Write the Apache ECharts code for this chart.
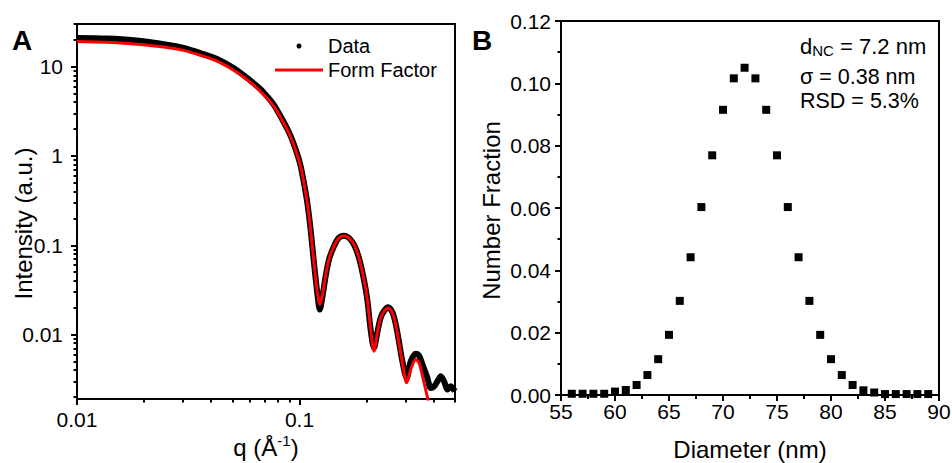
<!DOCTYPE html>
<html>
<head>
<meta charset="utf-8">
<script src="https://cdn.jsdelivr.net/npm/echarts@6/dist/echarts.min.js"></script>
<style>html,body{margin:0;padding:0;background:#fff;}#c{width:952px;height:463px;}</style>
</head>
<body>
<div id="c"></div>
<script>
// ---- Panel A: SAXS data and form factor fit ----
const qData = [0.0100,0.0136,0.0180,0.0254,0.0301,0.0358,0.0426,0.0506,0.0581,0.0667,0.0715,0.0766,0.0849,0.0910,0.0976,0.1011,0.1047,0.1084,0.1122,0.1162,0.1203,0.1234,0.1265,0.1309,0.1355,0.1427,0.1503,0.1584,0.1668,0.1760,0.1851,0.1949,0.2018,0.2089,0.2163,0.2239,0.2317,0.2399,0.2500,0.2616,0.2706,0.2801,0.2901,0.3034,0.3162,0.3331,0.3446,0.3573,0.3758,0.389,0.403,0.417,0.4315,0.4467,0.4624,0.4786,0.4989];
const iData = [20.9,20.6,19.7,17.6,16.2,14.2,12.2,9.67,7.47,5.63,4.65,3.75,2.40,1.70,1.06,0.78,0.50,0.30,0.150,0.063,0.029,0.0191,0.0255,0.044,0.068,0.097,0.121,0.128,0.121,0.101,0.072,0.041,0.0245,0.0113,0.0071,0.0106,0.0155,0.0184,0.0202,0.0178,0.0132,0.0083,0.0050,0.00327,0.00502,0.00612,0.00582,0.00461,0.00327,0.00253,0.00264,0.0030,0.00341,0.0030,0.00242,0.00264,0.00232];
const qFit = [0.0100,0.0136,0.0180,0.0254,0.0301,0.0358,0.0426,0.0506,0.0581,0.0667,0.0715,0.0766,0.0849,0.0910,0.0976,0.1011,0.1047,0.1084,0.1122,0.1162,0.1203,0.1234,0.1265,0.1309,0.1355,0.1427,0.1503,0.1584,0.1668,0.1760,0.1851,0.1949,0.2018,0.2089,0.2163,0.2239,0.2317,0.2399,0.2500,0.2616,0.2706,0.2801,0.2901,0.3034,0.3162,0.3331,0.3446,0.3573,0.3758,0.3800];
const iFit = [19.1,18.7,17.9,16.4,15.2,13.4,11.5,9.1,7.15,5.29,4.42,3.60,2.34,1.66,1.035,0.766,0.499,0.298,0.150,0.0634,0.0293,0.0217,0.0269,0.0450,0.0690,0.0973,0.1208,0.128,0.1208,0.1016,0.0721,0.0413,0.0247,0.0114,0.0065,0.01045,0.0154,0.0182,0.0199,0.0175,0.01294,0.00807,0.00482,0.00288,0.00406,0.00525,0.00482,0.00341,0.00199,0.0017];
const qMajorTicks = [0.01, 0.1];
const qMinorTicks = [0.02,0.03,0.04,0.05,0.06,0.07,0.08,0.09,0.2,0.3,0.4,0.5];
const iMajorTicks = [0.01, 0.1, 1, 10];
const iMinorTicks = [0.002,0.003,0.004,0.005,0.006,0.007,0.008,0.009,0.02,0.03,0.04,0.05,0.06,0.07,0.08,0.09,0.2,0.3,0.4,0.5,0.6,0.7,0.8,0.9,2,3,4,5,6,7,8,9,20,30];

// ---- Panel B: size distribution ----
const diameter = [56,57,58,59,60,61,62,63,64,65,66,67,68,69,70,71,72,73,74,75,76,77,78,79,80,81,82,83,84,85,86,87,88,89];
const fraction = [0.0004,0.0004,0.0004,0.0004,0.0011,0.0016,0.0032,0.0064,0.0115,0.0193,0.0302,0.0442,0.0603,0.0769,0.0915,0.1016,0.1050,0.1016,0.0915,0.0769,0.0603,0.0442,0.0302,0.0193,0.0115,0.0064,0.0032,0.0015,0.0008,0.0003,0.0003,0.0003,0.0003,0.0003];
const annotation = ['{m|d}{s|NC}{m| = 7.2 nm}', '{m|σ = 0.38 nm}', '{m|RSD = 5.3%}'];

const FF = 'Liberation Sans, Arial, sans-serif';
const K = '#000';
const zip = (a, b) => a.map((v, i) => [v, b[i]]);

const chart = echarts.init(document.getElementById('c'), null, {renderer: 'svg'});
const lbl = (extra) => Object.assign({color: K, fontSize: 21, fontFamily: FF}, extra);
const line2 = {show: true, lineStyle: {color: K, width: 2}};

chart.setOption({
  backgroundColor: '#fff',
  animation: false,
  grid: [
    {left: 77, top: 24, width: 378, height: 375, show: true, borderColor: K, borderWidth: 2, backgroundColor: 'transparent', containLabel: false, outerBoundsMode: 'none'},
    {left: 561, top: 21, width: 378, height: 374, show: true, borderColor: K, borderWidth: 2, backgroundColor: 'transparent', containLabel: false, outerBoundsMode: 'none'}
  ],
  legend: {
    orient: 'vertical', left: 270, top: 31, itemWidth: 48, itemHeight: 5, itemGap: 4,
    textStyle: {color: K, fontSize: 20, fontFamily: FF},
    data: [{name: 'Data', icon: 'circle'}, {name: 'Form Factor', icon: 'path://M0,0L48,0L48,3L0,3Z'}]
  },
  xAxis: [
    {type: 'log', gridIndex: 0, min: 0.01, max: 0.5, position: 'bottom',
     axisLine: line2, splitLine: {show: false},
     axisTick: {show: true, length: 6, lineStyle: {color: K, width: 2}, customValues: qMajorTicks},
     axisLabel: lbl({margin: 10, customValues: qMajorTicks}),
     name: '{a|q (Å}{u|-1}{a|)}', nameLocation: 'middle', nameGap: 34, nameMoveOverlap: false,
     nameTextStyle: {color: K, fontSize: 24, fontFamily: FF,
       rich: {a: {color: K, fontSize: 24, fontFamily: FF, lineHeight: 28},
              u: {color: K, fontSize: 15, fontFamily: FF, lineHeight: 15, verticalAlign: 'top'}}}},
    {type: 'log', gridIndex: 0, min: 0.01, max: 0.5, position: 'bottom',
     axisLine: {show: false}, splitLine: {show: false}, axisLabel: {show: false},
     axisTick: {show: true, length: 3.5, lineStyle: {color: K, width: 2}, customValues: qMinorTicks}},
    {type: 'value', gridIndex: 1, min: 55, max: 90, interval: 5,
     axisLine: line2, splitLine: {show: false},
     axisTick: {show: true, length: 6, lineStyle: {color: K, width: 2}},
     minorTick: {show: true, splitNumber: 2, length: 4, lineStyle: {color: K, width: 2}},
     axisLabel: lbl({margin: 6}),
     name: 'Diameter (nm)', nameLocation: 'middle', nameGap: 42, nameMoveOverlap: false,
     nameTextStyle: {color: K, fontSize: 24, fontFamily: FF}}
  ],
  yAxis: [
    {type: 'log', gridIndex: 0, min: 0.0019, max: 30, position: 'left',
     axisLine: line2, splitLine: {show: false},
     axisTick: {show: true, length: 6, lineStyle: {color: K, width: 2}, customValues: iMajorTicks},
     axisLabel: lbl({margin: 14, customValues: iMajorTicks}),
     name: 'Intensity (a.u.)', nameLocation: 'middle', nameGap: 42, nameMoveOverlap: false,
     nameTextStyle: {color: K, fontSize: 24, fontFamily: FF, padding: [0, 24, 0, 0]}},
    {type: 'log', gridIndex: 0, min: 0.0019, max: 30, position: 'left',
     axisLine: {show: false}, splitLine: {show: false}, axisLabel: {show: false},
     axisTick: {show: true, length: 3.5, lineStyle: {color: K, width: 2}, customValues: iMinorTicks}},
    {type: 'value', gridIndex: 1, min: 0, max: 0.12, interval: 0.02,
     axisLine: line2, splitLine: {show: false},
     axisTick: {show: true, length: 6, lineStyle: {color: K, width: 2}},
     minorTick: {show: true, splitNumber: 2, length: 3.5, lineStyle: {color: K, width: 2}},
     axisLabel: lbl({margin: 10, formatter: v => v.toFixed(2)}),
     name: 'Number Fraction', nameLocation: 'middle', nameGap: 58, nameMoveOverlap: false,
     nameTextStyle: {color: K, fontSize: 24, fontFamily: FF, padding: [0, 5, 0, 0]}}
  ],
  series: [
    {name: 'Data', type: 'line', xAxisIndex: 0, yAxisIndex: 0, data: zip(qData, iData),
     showSymbol: false, smooth: 0.3, lineStyle: {color: K, width: 6}, itemStyle: {color: K}},
    {name: 'Form Factor', type: 'line', xAxisIndex: 0, yAxisIndex: 0, data: zip(qFit, iFit),
     showSymbol: false, symbol: 'none', smooth: 0.3, lineStyle: {color: '#ff0000', width: 3}, itemStyle: {color: '#ff0000'}},
    {name: 'Distribution', type: 'scatter', xAxisIndex: 2, yAxisIndex: 2, data: zip(diameter, fraction),
     symbol: 'rect', symbolSize: 8, itemStyle: {color: K, opacity: 1}}
  ],
  graphic: [
    {type: 'text', x: 12, y: 40, style: {text: 'A', font: 'bold 28px ' + FF, fill: K, verticalAlign: 'middle'}},
    {type: 'text', x: 472, y: 40, style: {text: 'B', font: 'bold 28px ' + FF, fill: K, verticalAlign: 'middle'}},
    {type: 'text', x: 800, y: 46, style: {text: annotation[0], verticalAlign: 'middle',
      rich: {m: {fontSize: 22, fontFamily: FF, fill: K, lineHeight: 24}, s: {fontSize: 15, fontFamily: FF, fill: K, lineHeight: 15, verticalAlign: 'bottom'}}}},
    {type: 'text', x: 800, y: 77, style: {text: annotation[1], verticalAlign: 'middle',
      rich: {m: {fontSize: 21.5, fontFamily: FF, fill: K, lineHeight: 24}}}},
    {type: 'text', x: 800, y: 101, style: {text: annotation[2], verticalAlign: 'middle',
      rich: {m: {fontSize: 21.5, fontFamily: FF, fill: K, lineHeight: 24}}}}
  ]
});
</script>
</body>
</html>
